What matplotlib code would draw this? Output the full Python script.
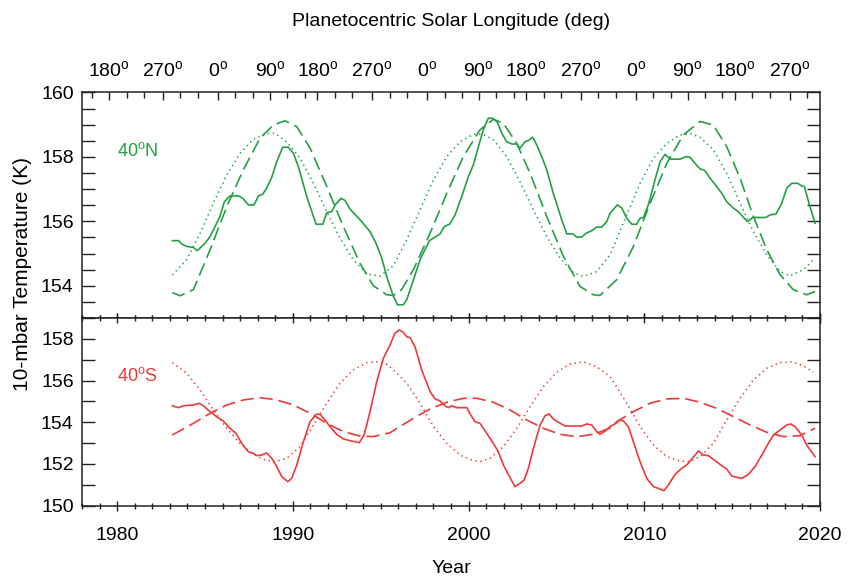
import numpy as np
import matplotlib.pyplot as plt

plt.rcParams['font.family'] = ['Liberation Sans', 'DejaVu Sans']
plt.rcParams['mathtext.fontset'] = 'custom'
plt.rcParams['mathtext.rm'] = 'Liberation Sans'

GREEN = '#23a044'
RED = '#ee3a3a'

# ---- 40N, observed (solid)
n_obs_yr = [1983.14, 1983.50, 1983.67, 1983.96, 1984.34, 1984.56, 1985.00, 1985.29, 1985.57, 1985.85,
            1986.10, 1986.42, 1986.90, 1987.14, 1987.47, 1987.79, 1988.04, 1988.28, 1988.51, 1988.80,
            1989.08, 1989.42, 1989.74, 1990.03, 1990.31, 1990.79, 1991.32, 1991.70, 1991.93, 1992.21,
            1992.40, 1992.74, 1992.97, 1993.25, 1993.82, 1994.39, 1994.73, 1995.06, 1995.34, 1995.53,
            1995.72, 1995.95, 1996.29, 1996.48, 1996.77, 1997.24, 1997.77, 1998.09, 1998.38, 1998.62,
            1998.94, 1999.23, 1999.61, 1999.99, 2000.27, 2000.56, 2000.84, 2001.12, 2001.37, 2001.64,
            2001.89, 2002.17, 2002.46, 2002.74, 2002.93, 2003.21, 2003.40, 2003.65, 2003.88, 2004.16,
            2004.45, 2004.82, 2005.30, 2005.59, 2005.93, 2006.16, 2006.44, 2006.69, 2007.01, 2007.29,
            2007.58, 2007.86, 2008.05, 2008.47, 2008.72, 2009.00, 2009.29, 2009.57, 2009.76, 2009.95,
            2010.23, 2010.61, 2010.90, 2011.18, 2011.50, 2012.03, 2012.38, 2012.60, 2012.89, 2013.17,
            2013.46, 2013.74, 2014.12, 2014.41, 2014.69, 2015.07, 2015.35, 2015.60, 2015.87, 2016.17,
            2016.49, 2016.91, 2017.16, 2017.50, 2017.82, 2018.11, 2018.39, 2018.73, 2018.96, 2019.11,
            2019.40, 2019.72]
n_obs_t = [155.40, 155.40, 155.30, 155.22, 155.19, 155.09, 155.32, 155.53, 155.84, 156.15,
           156.61, 156.79, 156.79, 156.72, 156.51, 156.51, 156.79, 156.84, 157.03, 157.37,
           157.85, 158.30, 158.30, 158.11, 157.70, 156.77, 155.91, 155.91, 156.27, 156.30,
           156.51, 156.71, 156.65, 156.38, 156.05, 155.68, 155.32, 154.86, 154.29, 153.98,
           153.67, 153.41, 153.41, 153.57, 154.03, 154.81, 155.40, 155.51, 155.61, 155.84,
           155.92, 156.20, 156.77, 157.39, 157.75, 158.32, 158.84, 159.20, 159.20, 159.08,
           158.73, 158.47, 158.40, 158.40, 158.27, 158.47, 158.51, 158.61, 158.37, 158.01,
           157.60, 156.87, 156.05, 155.61, 155.61, 155.51, 155.51, 155.63, 155.71, 155.82,
           155.82, 155.99, 156.25, 156.51, 156.41, 156.10, 155.91, 155.91, 156.10, 156.12,
           156.51, 157.29, 157.85, 158.08, 157.93, 157.93, 158.01, 157.99, 157.80, 157.63,
           157.57, 157.34, 157.08, 156.87, 156.61, 156.41, 156.30, 156.15, 155.99, 156.12,
           156.12, 156.12, 156.20, 156.23, 156.56, 157.03, 157.18, 157.18, 157.10, 157.08,
           156.51, 155.94]

# ---- 40N, model (dashed)
n_dash_yr = [1983.14, 1983.58, 1984.34, 1985.29, 1986.24, 1987.18, 1988.13, 1988.89, 1989.55, 1990.22,
             1990.98, 1991.93, 1992.87, 1993.82, 1994.58, 1995.34, 1995.72, 1996.19, 1996.86, 1997.81,
             1998.76, 1999.70, 2000.65, 2001.41, 2001.98, 2002.74, 2003.50, 2004.45, 2005.40, 2006.34,
             2007.10, 2007.48, 2008.43, 2009.38, 2010.33, 2011.28, 2012.22, 2013.17, 2013.93, 2014.69,
             2015.45, 2016.21, 2016.97, 2017.73, 2018.48, 2019.24, 2019.72]
n_dash_t = [153.79, 153.69, 153.88, 155.12, 156.46, 157.60, 158.58, 158.99, 159.12, 158.94,
            158.27, 157.08, 155.84, 154.70, 154.00, 153.72, 153.70, 153.88, 154.50, 155.63,
            156.87, 158.01, 158.84, 159.17, 159.04, 158.42, 157.49, 156.15, 154.91, 153.98,
            153.72, 153.70, 154.19, 155.22, 156.56, 157.80, 158.68, 159.10, 158.99, 158.32,
            157.34, 156.15, 155.12, 154.34, 153.88, 153.72, 153.82]

# ---- 40N, model (dotted)
n_dot_yr = [1983.14, 1983.96, 1984.72, 1985.47, 1986.24, 1986.99, 1987.75, 1988.51, 1988.98, 1989.65,
            1990.41, 1991.17, 1991.93, 1992.68, 1993.44, 1994.20, 1994.96, 1995.72, 1996.48, 1997.24,
            1998.00, 1998.76, 1999.51, 2000.27, 2000.84, 2001.41, 2002.17, 2002.93, 2003.69, 2004.45,
            2005.20, 2005.96, 2006.53, 2007.29, 2008.05, 2008.24, 2009.00, 2009.76, 2010.52, 2011.28,
            2012.03, 2012.60, 2013.17, 2013.93, 2014.69, 2015.45, 2016.21, 2016.97, 2017.73, 2018.30,
            2019.05, 2019.72]
n_dot_t = [154.34, 154.81, 155.63, 156.56, 157.44, 158.11, 158.55, 158.73, 158.73, 158.47,
           157.96, 157.18, 156.30, 155.48, 154.81, 154.37, 154.30, 154.62, 155.43, 156.36,
           157.29, 158.01, 158.47, 158.70, 158.70, 158.53, 158.01, 157.23, 156.36, 155.53,
           154.86, 154.41, 154.29, 154.44, 154.96, 155.20, 156.20, 157.18, 157.96, 158.42,
           158.68, 158.73, 158.61, 158.22, 157.49, 156.56, 155.68, 154.96, 154.44, 154.31,
           154.50, 154.86]

# ---- 40S, observed (solid)
s_obs_yr = [1983.14, 1983.48, 1983.77, 1984.34, 1984.68, 1984.90, 1985.29, 1985.66, 1986.04, 1986.42,
            1986.76, 1987.09, 1987.46, 1987.75, 1987.94, 1988.23, 1988.51, 1988.80, 1989.08, 1989.37,
            1989.71, 1989.93, 1990.22, 1990.60, 1990.98, 1991.32, 1991.55, 1991.83, 1992.11, 1992.50,
            1992.87, 1993.35, 1993.78, 1994.05, 1994.39, 1994.77, 1995.15, 1995.53, 1995.81, 1996.04,
            1996.25, 1996.48, 1996.67, 1996.95, 1997.33, 1997.81, 1998.09, 1998.38, 1998.66, 1998.85,
            1999.04, 1999.33, 1999.90, 2000.12, 2000.37, 2000.65, 2001.03, 2001.41, 2001.69, 2001.98,
            2002.26, 2002.64, 2002.93, 2003.16, 2003.40, 2003.69, 2003.88, 2004.07, 2004.35, 2004.58,
            2004.82, 2005.11, 2005.49, 2005.96, 2006.44, 2006.72, 2007.01, 2007.29, 2007.48, 2007.77,
            2008.05, 2008.39, 2008.62, 2008.81, 2009.09, 2009.38, 2009.76, 2010.14, 2010.52, 2010.80,
            2011.12, 2011.37, 2011.75, 2012.13, 2012.45, 2012.76, 2013.08, 2013.36, 2013.65, 2014.03,
            2014.41, 2014.69, 2014.98, 2015.26, 2015.55, 2015.92, 2016.30, 2016.69, 2017.06, 2017.35,
            2017.73, 2018.11, 2018.34, 2018.58, 2018.96, 2019.24, 2019.72]
s_obs_t = [154.79, 154.70, 154.79, 154.83, 154.91, 154.79, 154.51, 154.27, 154.06, 153.71,
           153.47, 152.99, 152.59, 152.51, 152.40, 152.43, 152.53, 152.27, 151.87, 151.39,
           151.15, 151.31, 151.95, 153.07, 154.03, 154.38, 154.38, 154.11, 153.79, 153.42,
           153.20, 153.10, 153.02, 153.39, 154.51, 155.94, 157.07, 157.71, 158.27, 158.42,
           158.34, 158.10, 158.06, 157.62, 156.51, 155.47, 155.12, 155.02, 154.79, 154.70,
           154.79, 154.70, 154.70, 154.35, 154.03, 153.95, 153.47, 152.99, 152.59, 151.95,
           151.50, 150.91, 151.07, 151.23, 151.79, 152.75, 153.31, 153.87, 154.31, 154.40,
           154.16, 154.00, 153.82, 153.82, 153.82, 153.92, 153.87, 153.55, 153.42, 153.58,
           153.79, 153.95, 154.11, 154.06, 153.79, 153.07, 152.11, 151.31, 150.91, 150.83,
           150.72, 150.99, 151.50, 151.79, 151.98, 152.30, 152.62, 152.43, 152.40, 152.16,
           151.92, 151.76, 151.42, 151.36, 151.31, 151.50, 151.87, 152.43, 152.99, 153.39,
           153.63, 153.87, 153.92, 153.79, 153.39, 152.91, 152.35]

# ---- 40S, model (dashed)
s_dash_yr = [1983.14, 1984.34, 1985.29, 1986.24, 1987.18, 1988.13, 1989.08, 1990.03, 1990.98, 1991.93,
             1992.87, 1993.82, 1994.58, 1995.53, 1996.86, 1997.81, 1998.76, 1999.70, 2000.46, 2001.41,
             2002.36, 2003.31, 2004.26, 2005.21, 2006.16, 2007.10, 2008.05, 2008.43, 2009.38, 2010.33,
             2011.28, 2012.22, 2013.17, 2014.12, 2015.07, 2016.02, 2016.97, 2017.92, 2018.87, 2019.72]
s_dash_t = [153.39, 153.95, 154.43, 154.83, 155.07, 155.18, 155.07, 154.83, 154.43, 153.95,
            153.55, 153.34, 153.31, 153.50, 154.19, 154.64, 154.96, 155.15, 155.15, 154.96,
            154.59, 154.11, 153.71, 153.42, 153.31, 153.42, 153.72, 154.03, 154.51, 154.91,
            155.12, 155.15, 154.96, 154.67, 154.27, 153.87, 153.52, 153.31, 153.36, 153.71]

# ---- 40S, model (dotted)
s_dot_yr = [1983.14, 1983.96, 1984.72, 1985.47, 1986.24, 1986.99, 1987.75, 1988.51, 1988.98, 1989.65,
            1990.41, 1991.17, 1991.93, 1992.68, 1993.44, 1994.20, 1994.77, 1995.34, 1995.72, 1996.48,
            1997.24, 1998.00, 1998.76, 1999.51, 2000.27, 2000.65, 2001.22, 2001.98, 2002.74, 2003.50,
            2004.26, 2005.02, 2005.77, 2006.53, 2007.29, 2008.05, 2008.24, 2009.00, 2009.76, 2010.52,
            2011.28, 2012.03, 2012.60, 2013.17, 2013.93, 2014.69, 2015.45, 2016.21, 2016.97, 2017.73,
            2018.39, 2019.05, 2019.62]
s_dot_t = [156.86, 156.35, 155.55, 154.59, 153.71, 152.99, 152.46, 152.16, 152.11, 152.27,
           152.83, 153.87, 154.91, 155.87, 156.51, 156.86, 156.90, 156.78, 156.51, 155.87,
           154.91, 153.79, 152.99, 152.43, 152.16, 152.11, 152.27, 152.83, 153.71, 154.75,
           155.71, 156.40, 156.79, 156.90, 156.66, 156.19, 155.95, 154.91, 153.79, 152.91,
           152.35, 152.14, 152.11, 152.35, 152.99, 154.11, 155.15, 156.03, 156.59, 156.86,
           156.90, 156.71, 156.40]

# ---- planetocentric solar longitude, year of each labelled tick
ls_years = [1979.54, 1982.61, 1985.74, 1988.70, 1991.40, 1994.52, 1997.64, 2000.58,
            2003.28, 2006.40, 2009.52, 2012.46, 2015.16, 2018.28]
ls_labels = ['180', '270', '0', '90', '180', '270', '0', '90', '180', '270', '0', '90', '180', '270']

fig = plt.figure(figsize=(8.5, 5.79), dpi=100)
ax1 = fig.add_axes([0.0965, 0.4508, 0.8682, 0.3895])
ax2 = fig.add_axes([0.0965, 0.1266, 0.8682, 0.3242])

dash = (8, 3.5)
dot = (0.8, 2.2)
lw = 1.2

ax1.plot(n_obs_yr, n_obs_t, color=GREEN, lw=lw)
ax1.plot(n_dash_yr, n_dash_t, color=GREEN, lw=lw, dashes=dash)
ax1.plot(n_dot_yr, n_dot_t, color=GREEN, lw=lw, dashes=dot)
ax2.plot(s_obs_yr, s_obs_t, color=RED, lw=lw)
ax2.plot(s_dash_yr, s_dash_t, color=RED, lw=lw, dashes=dash)
ax2.plot(s_dot_yr, s_dot_t, color=RED, lw=lw, dashes=dot)

for ax in (ax1, ax2):
    ax.set_xlim(1978, 2020)
    ax.set_xticks(np.arange(1980, 2021, 10))
    ax.set_xticks(np.arange(1978, 2021, 1), minor=True)
    for s in ax.spines.values():
        s.set_linewidth(1.1)
        s.set_color('#222222')
    ax.tick_params(axis='x', which='both', direction='inout', top=True, bottom=True,
                   color='#222222', width=1.0)
    ax.tick_params(axis='x', which='major', length=7)
    ax.tick_params(axis='x', which='minor', length=5)
    ax.tick_params(axis='y', which='both', direction='in', left=True, right=True,
                   length=9.5, color='#222222', width=1.0, labelsize=14, pad=6)

ax1.set_ylim(153, 160)
ax1.set_yticks([154, 156, 158, 160])
ax1.set_yticks(np.arange(153, 160.01, 0.5), minor=True)
ax1.tick_params(axis='x', labelbottom=False)

ax2.set_ylim(150, 159)
ax2.set_yticks([150, 152, 154, 156, 158])
ax2.set_yticks(np.arange(150, 159.01, 1), minor=True)
ax2.tick_params(axis='x', labelsize=14, pad=12)
ax2.set_xlabel('Year', fontsize=14, labelpad=11)

# top axis: solar longitude
top = ax1.twiny()
top.set_xlim(1978, 2020)
top.set_xticks(ls_years)
top.set_xticklabels([l + r'$^{\rm o}$' for l in ls_labels])
step = np.diff(ls_years).mean() / 3
minor = []
for y in [ls_years[0] - 3 * step] + ls_years:
    minor += [y + step, y + 2 * step]
top.set_xticks([m for m in minor if 1978 < m < 2020], minor=True)
top.tick_params(axis='x', which='both', direction='in', color='#222222', width=1.0,
                labelsize=14, pad=8)
top.tick_params(axis='x', which='major', length=6)
top.tick_params(axis='x', which='minor', length=4)
for s in top.spines.values():
    s.set_visible(False)

fig.text(0.5306, 0.963, 'Planetocentric Solar Longitude (deg)', ha='center', va='center', fontsize=14)
fig.text(0.026, 0.527, '10-mbar Temperature (K)', ha='center', va='center', rotation=90, fontsize=15)

ax1.text(0.047, 0.74, r'40$^{\rm o}$N', color=GREEN, fontsize=13, transform=ax1.transAxes, va='center')
ax2.text(0.047, 0.69, r'40$^{\rm o}$S', color=RED, fontsize=13, transform=ax2.transAxes, va='center')

fig.savefig('out.png', dpi=100)
